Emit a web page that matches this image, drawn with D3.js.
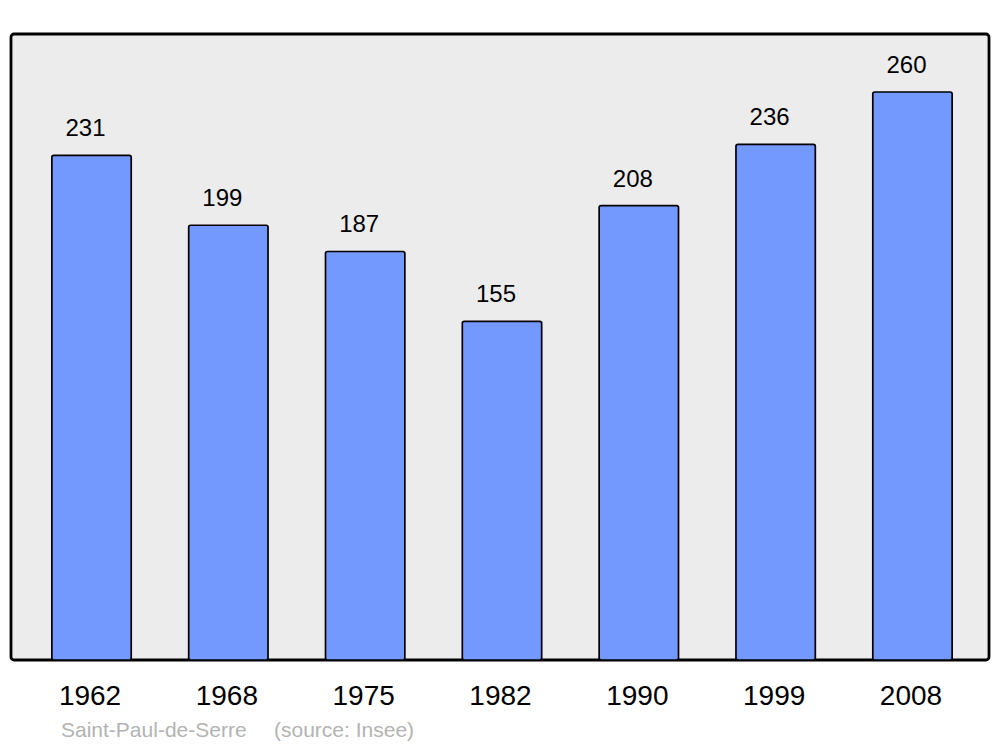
<!DOCTYPE html>
<html>
<head>
<meta charset="utf-8">
<script src="https://cdn.jsdelivr.net/npm/d3@7"></script>
<style>
  html, body { margin: 0; padding: 0; background: #fff; }
  svg { display: block; font-family: "Liberation Sans", Arial, sans-serif; }
</style>
</head>
<body>
<svg id="chart" width="1000" height="747"></svg>
<script>
const years = ["1962", "1968", "1975", "1982", "1990", "1999", "2008"];
const population = [231, 199, 187, 155, 208, 236, 260];
const commune = "Saint-Paul-de-Serre";
const sourceLabel = "(source: Insee)";

const svg = d3.select("#chart");
const panel = { x: 11, y: 34, w: 978, h: 626 };

svg.append("rect")
  .attr("x", panel.x).attr("y", panel.y)
  .attr("width", panel.w).attr("height", panel.h)
  .attr("rx", 3).attr("ry", 3)
  .attr("fill", "#ececec")
  .attr("stroke", "#000").attr("stroke-width", 2.8);

const x = d3.scaleBand()
  .domain(years)
  .range([13, 991])
  .paddingInner(0.42)
  .paddingOuter(0.284);

const y = d3.scaleLinear()
  .domain([0, 260])
  .range([660, 92]);

const data = years.map((yr, i) => ({ year: yr, value: population[i] }));

svg.append("g").selectAll("rect")
  .data(data)
  .join("rect")
  .attr("x", d => x(d.year))
  .attr("y", d => y(d.value))
  .attr("width", x.bandwidth())
  .attr("height", d => y(0) - y(d.value))
  .attr("rx", 2).attr("ry", 2)
  .attr("fill", "#7399ff")
  .attr("stroke", "#000")
  .attr("stroke-width", 1.7);

svg.append("g").selectAll("text")
  .data(data)
  .join("text")
  .attr("x", d => x(d.year) + x.bandwidth() / 2 - 6)
  .attr("y", d => y(d.value) - 19)
  .attr("text-anchor", "middle")
  .attr("font-size", 24)
  .attr("fill", "#000")
  .text(d => d.value);

svg.append("g").selectAll("text")
  .data(data)
  .join("text")
  .attr("x", d => x(d.year) + x.bandwidth() / 2 - 1.5)
  .attr("y", 705)
  .attr("text-anchor", "middle")
  .attr("font-size", 28)
  .attr("fill", "#000")
  .text(d => d.year);

svg.append("text")
  .attr("x", 61).attr("y", 737)
  .attr("font-size", 21)
  .attr("fill", "#b3b3b3")
  .text(commune);

svg.append("text")
  .attr("x", 274).attr("y", 737)
  .attr("font-size", 21)
  .attr("fill", "#b3b3b3")
  .text(sourceLabel);
</script>
</body>
</html>
